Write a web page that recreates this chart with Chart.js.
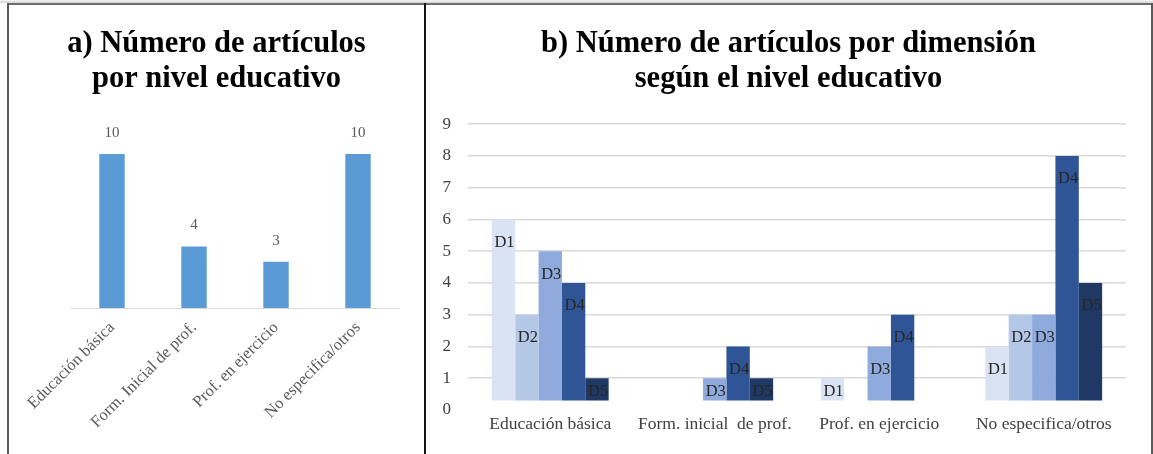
<!DOCTYPE html>
<html>
<head>
<meta charset="utf-8">
<script src="https://cdn.jsdelivr.net/npm/chart.js@4.4.0/dist/chart.umd.min.js"></script>
<style>
  html, body { margin: 0; padding: 0; background: #fff; width: 1153px; height: 454px; overflow: hidden; }
  .band { position: absolute; left: 0; top: 0; width: 1153px; height: 3px; background: linear-gradient(#f5f5f5, #d4d4d4); }
  .line { position: absolute; }
  canvas { position: absolute; }
</style>
</head>
<body>
<div class="band"></div>
<div class="line" style="left:7px;top:3px;width:1146px;height:2px;background:#6e6e6e"></div>
<div class="line" style="left:7px;top:3px;width:2px;height:451px;background:#5a5a5a"></div>
<div class="line" style="left:424px;top:3px;width:2px;height:451px;background:#111"></div>
<div class="line" style="left:1151px;top:3px;width:2px;height:451px;background:#5a5a5a"></div>
<canvas id="chart-a" width="415" height="449" style="left:9px;top:5px"></canvas>
<canvas id="chart-b" width="725" height="449" style="left:426px;top:5px"></canvas>
<script>
// a) articles per educational level
const levelsA = ['Educación básica', 'Form. Inicial de prof.', 'Prof. en ejercicio', 'No especifica/otros'];
const articleCounts = [10, 4, 3, 10];

// b) articles per dimension by level
const levelsB = ['Educación básica', 'Form. inicial  de prof.', 'Prof. en ejercicio', 'No especifica/otros'];
const dimensions = ['D1', 'D2', 'D3', 'D4', 'D5'];
const d1 = [6, 0, 1, 2];
const d2 = [3, 0, 0, 3];
const d3 = [5, 1, 2, 3];
const d4 = [4, 2, 3, 8];
const d5 = [1, 1, 0, 4];
const yTicksB = [0, 1, 2, 3, 4, 5, 6, 7, 8, 9];

const dimColors = ['#DAE3F3', '#B4C7E7', '#8FAADC', '#2F5597', '#1F3864'];
const serif = '"Liberation Serif", "Times New Roman", serif';

Chart.defaults.font.family = serif;
Chart.defaults.color = '#595959';

const titleFont = { family: serif, size: 30.5, weight: 'bold', lineHeight: 1.15 };

// value labels above the bars of chart a
const valueLabels = {
  id: 'valueLabels',
  afterDatasetsDraw(chart) {
    const ctx = chart.ctx;
    ctx.save();
    ctx.font = '15px ' + serif;
    ctx.fillStyle = '#595959';
    ctx.textAlign = 'center';
    ctx.textBaseline = 'middle';
    chart.getDatasetMeta(0).data.forEach((bar, i) => {
      ctx.fillText(String(chart.data.datasets[0].data[i]), bar.x, bar.y - 21);
    });
    ctx.restore();
  }
};

// D1..D5 labels inside the bars of chart b
const dimLabels = {
  id: 'dimLabels',
  afterDatasetsDraw(chart) {
    const ctx = chart.ctx;
    ctx.save();
    ctx.font = '16.5px ' + serif;
    ctx.fillStyle = '#262626';
    ctx.textAlign = 'center';
    ctx.textBaseline = 'middle';
    chart.data.datasets.forEach((ds, i) => {
      chart.getDatasetMeta(i).data.forEach((bar, j) => {
        if (ds.data[j] == null) return;
        const y = Math.min(bar.y + 23, (bar.y + bar.base) / 2 + 2);
        ctx.fillText(ds.label, bar.x + 1, y);
      });
    });
    ctx.restore();
  }
};

// invisible axis that only reserves horizontal room
const spacer = (width, position) => ({
  type: 'linear',
  position,
  display: true,
  min: 0,
  max: 1,
  grid: { display: false },
  border: { display: false },
  ticks: { display: false },
  afterFit: (s) => { s.width = width; },
});

new Chart(document.getElementById('chart-a'), {
  type: 'bar',
  data: {
    labels: levelsA,
    datasets: [{ data: articleCounts, backgroundColor: '#5B9BD5', categoryPercentage: 1, barPercentage: 0.31 }],
  },
  options: {
    responsive: false,
    animation: false,
    layout: { padding: { left: 25, right: 25, top: 0, bottom: 0 } },
    plugins: {
      legend: { display: false },
      tooltip: { enabled: false },
      title: {
        display: true,
        text: ['a) Número de artículos', 'por nivel educativo'],
        color: '#000',
        font: titleFont,
        padding: { top: 22, bottom: 26 },
      },
    },
    scales: {
      x: {
        grid: { display: false },
        border: { display: true, color: '#D9D9D9', width: 1 },
        ticks: { autoSkip: false, minRotation: 45, maxRotation: 45, font: { size: 16.5 }, color: '#595959', padding: 2 },
        afterFit: (s) => { s.height = 146; },
      },
      y: { ...spacer(37, 'left'), max: 12 },
    },
  },
  plugins: [valueLabels],
});

const seriesB = [d1, d2, d3, d4, d5];
new Chart(document.getElementById('chart-b'), {
  type: 'bar',
  data: {
    labels: levelsB,
    datasets: dimensions.map((name, i) => ({
      label: name,
      data: seriesB[i].map((v) => (v === 0 ? null : v)),
      backgroundColor: dimColors[i],
      base: 0.3,
      categoryPercentage: 0.71,
      barPercentage: 1,
    })),
  },
  options: {
    responsive: false,
    animation: false,
    layout: { padding: 0 },
    plugins: {
      legend: { display: false },
      tooltip: { enabled: false },
      title: {
        display: true,
        text: ['b) Número de artículos por dimensión', 'según el nivel educativo'],
        color: '#000',
        font: titleFont,
        padding: { top: 22, bottom: 27 },
      },
    },
    scales: {
      x: {
        grid: { display: false, drawTicks: false },
        border: { display: false },
        ticks: { autoSkip: false, maxRotation: 0, font: { size: 17.5 }, color: '#404040', padding: 4 },
        afterFit: (s) => { s.height = 44; },
      },
      y: {
        min: yTicksB[0],
        max: yTicksB[yTicksB.length - 1],
        afterBuildTicks: (s) => { s.ticks = yTicksB.map((v) => ({ value: v })); },
        grid: {
          drawTicks: false,
          color: (c) => (c.tick && c.tick.value === 0 ? 'rgba(0,0,0,0)' : '#D9D9D9'),
          lineWidth: 1.5,
        },
        border: { display: false },
        ticks: { font: { size: 17 }, color: '#404040', padding: 17 },
        afterFit: (s) => { s.width = 42; },
      },
      yRight: spacer(25, 'right'),
    },
  },
  plugins: [dimLabels],
});
</script>
</body>
</html>
